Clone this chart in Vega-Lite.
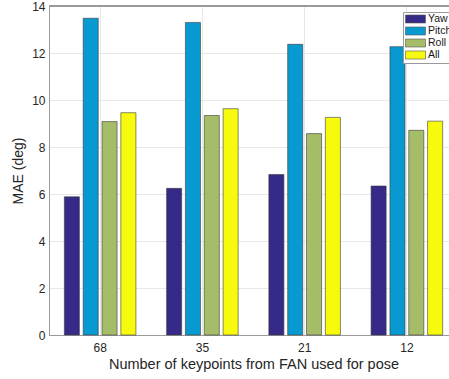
{
  "$schema": "https://vega.github.io/schema/vega-lite/v6.json",
  "width": 400,
  "height": 329,
  "autosize": {"type": "none"},
  "padding": {"left": 49, "top": 6, "right": 0, "bottom": 44},
  "background": "white",
  "config": {
    "view": {"stroke": null},
    "font": "Liberation Sans",
    "axis": {
      "labelFont": "Liberation Sans",
      "titleFont": "Liberation Sans",
      "labelColor": "#262626",
      "titleColor": "#262626",
      "titleFontWeight": "normal",
      "domainColor": "#9a9a9a",
      "gridColor": "#e8e8e8",
      "ticks": false
    }
  },
  "data": {
    "values": [
      {"keypoints": "68", "angle": "Yaw", "mae": 5.88},
      {"keypoints": "68", "angle": "Pitch", "mae": 13.48},
      {"keypoints": "68", "angle": "Roll", "mae": 9.08},
      {"keypoints": "68", "angle": "All", "mae": 9.46},
      {"keypoints": "35", "angle": "Yaw", "mae": 6.24},
      {"keypoints": "35", "angle": "Pitch", "mae": 13.3},
      {"keypoints": "35", "angle": "Roll", "mae": 9.34},
      {"keypoints": "35", "angle": "All", "mae": 9.63},
      {"keypoints": "21", "angle": "Yaw", "mae": 6.83},
      {"keypoints": "21", "angle": "Pitch", "mae": 12.37},
      {"keypoints": "21", "angle": "Roll", "mae": 8.57},
      {"keypoints": "21", "angle": "All", "mae": 9.26},
      {"keypoints": "12", "angle": "Yaw", "mae": 6.34},
      {"keypoints": "12", "angle": "Pitch", "mae": 12.27},
      {"keypoints": "12", "angle": "Roll", "mae": 8.71},
      {"keypoints": "12", "angle": "All", "mae": 9.1}
    ]
  },
  "layer": [
    {
      "mark": {"type": "bar", "stroke": "#3c3c3c", "strokeWidth": 0.6},
      "encoding": {
        "x": {
          "field": "keypoints",
          "type": "nominal",
          "sort": ["68", "35", "21", "12"],
          "scale": {"range": [0, 409], "paddingInner": 0.3, "paddingOuter": 0.15},
          "axis": {
            "title": "Number of keypoints from FAN used for pose",
            "labelAngle": 0,
            "labelFontSize": 12,
            "labelPadding": 7,
            "titleFontSize": 14.5,
            "titlePadding": 4,
            "grid": true,
            "bandPosition": 0.5
          }
        },
        "xOffset": {
          "field": "angle",
          "type": "nominal",
          "sort": ["Yaw", "Pitch", "Roll", "All"],
          "scale": {"paddingInner": 0.2, "paddingOuter": 0}
        },
        "y": {
          "field": "mae",
          "type": "quantitative",
          "scale": {"domain": [0, 14], "nice": false},
          "axis": {
            "title": "MAE (deg)",
            "values": [0, 2, 4, 6, 8, 10, 12, 14],
            "labelFontSize": 12,
            "labelPadding": 4,
            "titleFontSize": 14,
            "titlePadding": 6,
            "grid": true
          }
        },
        "color": {
          "field": "angle",
          "type": "nominal",
          "sort": ["Yaw", "Pitch", "Roll", "All"],
          "scale": {
            "domain": ["Yaw", "Pitch", "Roll", "All"],
            "range": ["#352a87", "#0799d0", "#a5bd69", "#f8fa0d"]
          },
          "legend": {
            "title": null,
            "orient": "none",
            "legendX": 354,
            "legendY": 6,
            "fillColor": "white",
            "strokeColor": "#9a9a9a",
            "padding": 2,
            "symbolType": "M-1,-0.4H1V0.4H-1Z",
            "symbolSize": 400,
            "symbolStrokeColor": "#555555",
            "symbolStrokeWidth": 0.6,
            "symbolOpacity": 1,
            "clipHeight": 10,
            "rowPadding": 1,
            "labelFontSize": 10.5,
            "labelColor": "#1a1a1a",
            "labelOffset": 2
          }
        }
      }
    },
    {
      "mark": {"type": "rule", "color": "#9a9a9a", "strokeWidth": 1},
      "encoding": {"y": {"datum": 14}}
    }
  ]
}
